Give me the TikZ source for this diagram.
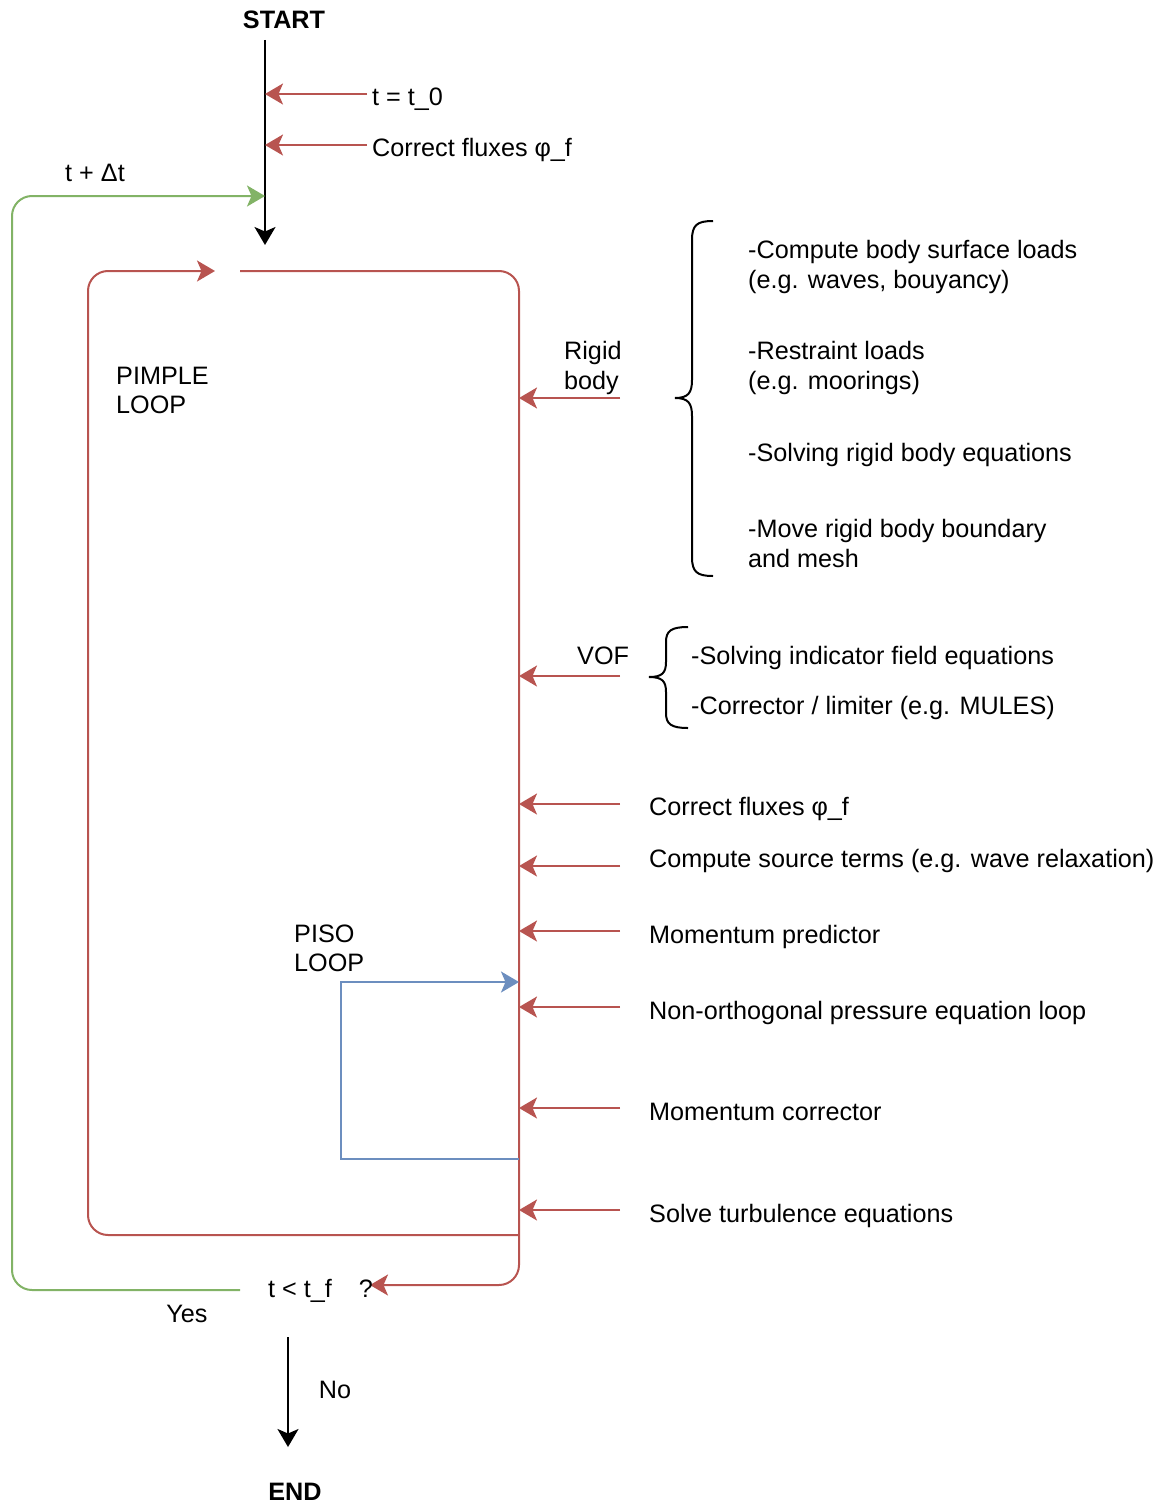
\documentclass[tikz,border=0pt]{standalone}
\usepackage{fontspec}
\setmainfont{Liberation Sans}
\usetikzlibrary{arrows.meta}
\definecolor{rd}{HTML}{B85450}
\definecolor{gn}{HTML}{82B366}
\definecolor{bl}{HTML}{6C8EBF}
\tikzset{
  lbl/.style={anchor=base west, inner sep=0pt, font=\fontsize{25.2}{30}\selectfont},
  clbl/.style={anchor=base, inner sep=0pt, font=\fontsize{25.2}{30}\selectfont},
  blbl/.style={anchor=base, inner sep=0pt, font=\fontsize{25.2}{30}\selectfont\bfseries},
  tip/.style={-{Stealth[length=18pt,width=21pt,inset=4.5pt]}},
  redline/.style={draw=rd, line width=2pt},
  greenline/.style={draw=gn, line width=2pt},
  blueline/.style={draw=bl, line width=2pt},
  blackline/.style={draw=black, line width=2pt},
  bracestyle/.style={draw=black, line width=2pt},
}
\begin{document}
\begin{tikzpicture}[x=1pt,y=-1pt]
\useasboundingbox (0,0) rectangle (1173,1504);
% top
\node[blbl] (start) at (284,29) {START};
\coordinate (s0) at (265,40);
\coordinate (s1) at (265,245);
\draw[blackline,tip] (s0) -- (s1);
\node[lbl] (t0) at (372,105) {t = t\_0};
\coordinate (t0a) at (367,94);
\coordinate (t0b) at (265,94);
\draw[redline,tip] (t0a) -- (t0b);
\node[lbl] (cf0) at (372,156) {Correct fluxes φ\_f};
\coordinate (cf0a) at (367,145);
\coordinate (cf0b) at (265,145);
\draw[redline,tip] (cf0a) -- (cf0b);
% green loop
\node[clbl] (dt) at (95,181) {t + Δt};
\coordinate (g0) at (240,1290);
\coordinate (g1) at (12,1290);
\coordinate (g2) at (12,196);
\coordinate (g3) at (265,196);
\draw[greenline,tip,rounded corners=20pt] (g0) -- (g1) -- (g2) -- (g3);
% PIMPLE loop
\coordinate (p0) at (240,271);
\coordinate (p1) at (519,271);
\coordinate (p2) at (519,1285);
\coordinate (p3) at (370,1285);
\draw[redline,tip,rounded corners=20pt] (p0) -- (p1) -- (p2) -- (p3);
\coordinate (q0) at (519,1235);
\coordinate (q1) at (88,1235);
\coordinate (q2) at (88,271);
\coordinate (q3) at (215,271);
\draw[redline,tip,rounded corners=20pt] (q0) -- (q1) -- (q2) -- (q3);
\node[lbl] (pim1) at (116,384) {PIMPLE};
\node[lbl] (pim2) at (116,413) {LOOP};
% PISO loop
\node[lbl] (piso1) at (294,942) {PISO};
\node[lbl] (piso2) at (294,971) {LOOP};
\coordinate (b0) at (519,1159);
\coordinate (b1) at (341,1159);
\coordinate (b2) at (341,982);
\coordinate (b3) at (519,982);
\draw[blueline,tip] (b0) -- (b1) -- (b2) -- (b3);
% side arrows
\foreach \yy/\nm in {398/rb,676/vof,804/cf,866/cs,931/mp,1007/np,1108/mc,1210/st}{
  \coordinate (\nm a) at (620,\yy);
  \coordinate (\nm b) at (519,\yy);
  \draw[redline,tip] (\nm a) -- (\nm b);
}
\node[lbl] (rb1) at (564,359) {Rigid};
\node[lbl] (rb2) at (564,389) {body};
\node[lbl] (vofl) at (577,664) {VOF};
\node[lbl] (l1) at (649,815) {Correct fluxes φ\_f};
\node[lbl] (l2) at (649,867) {Compute source terms (e.g. wave relaxation)};
\node[lbl] (l3) at (649,943) {Momentum predictor};
\node[lbl] (l4) at (649,1019) {Non-orthogonal pressure equation loop};
\node[lbl] (l5) at (649,1120) {Momentum corrector};
\node[lbl] (l6) at (649,1222) {Solve turbulence equations};
% big brace
\draw[bracestyle] (713,221) .. controls (697,221) and (692,225) .. (692,240) -- (692,380) .. controls (692,393) and (688,398) .. (675,398) .. controls (688,398) and (692,403) .. (692,416) -- (692,557) .. controls (692,572) and (697,576) .. (713,576);
\node[lbl] (r1) at (748,258) {-Compute body surface loads};
\node[lbl] (r2) at (748,288) {(e.g. waves, bouyancy)};
\node[lbl] (r3) at (748,359) {-Restraint loads};
\node[lbl] (r4) at (748,389) {(e.g. moorings)};
\node[lbl] (r5) at (748,461) {-Solving rigid body equations};
\node[lbl] (r6) at (748,537) {-Move rigid body boundary};
\node[lbl] (r7) at (748,567) {and mesh};
% small brace
\draw[bracestyle] (688,627) .. controls (671,627) and (666,631) .. (666,642) -- (666,662) .. controls (666,673) and (662,677) .. (649,677) .. controls (662,677) and (666,681) .. (666,692) -- (666,713) .. controls (666,724) and (671,728) .. (688,728);
\node[lbl] (v1) at (691,664) {-Solving indicator field equations};
\node[lbl] (v2) at (691,714) {-Corrector / limiter (e.g. MULES)};
% bottom
\node[lbl] (cond) at (268,1297) {t < t\_f\hspace{27pt}?};
\node[clbl] (yes) at (187,1322) {Yes};
\coordinate (e0) at (288,1337);
\coordinate (e1) at (288,1447);
\draw[blackline,tip] (e0) -- (e1);
\node[clbl] (no) at (335,1398) {No};
\node[blbl] (endn) at (295,1500) {END};
\end{tikzpicture}
\end{document}
